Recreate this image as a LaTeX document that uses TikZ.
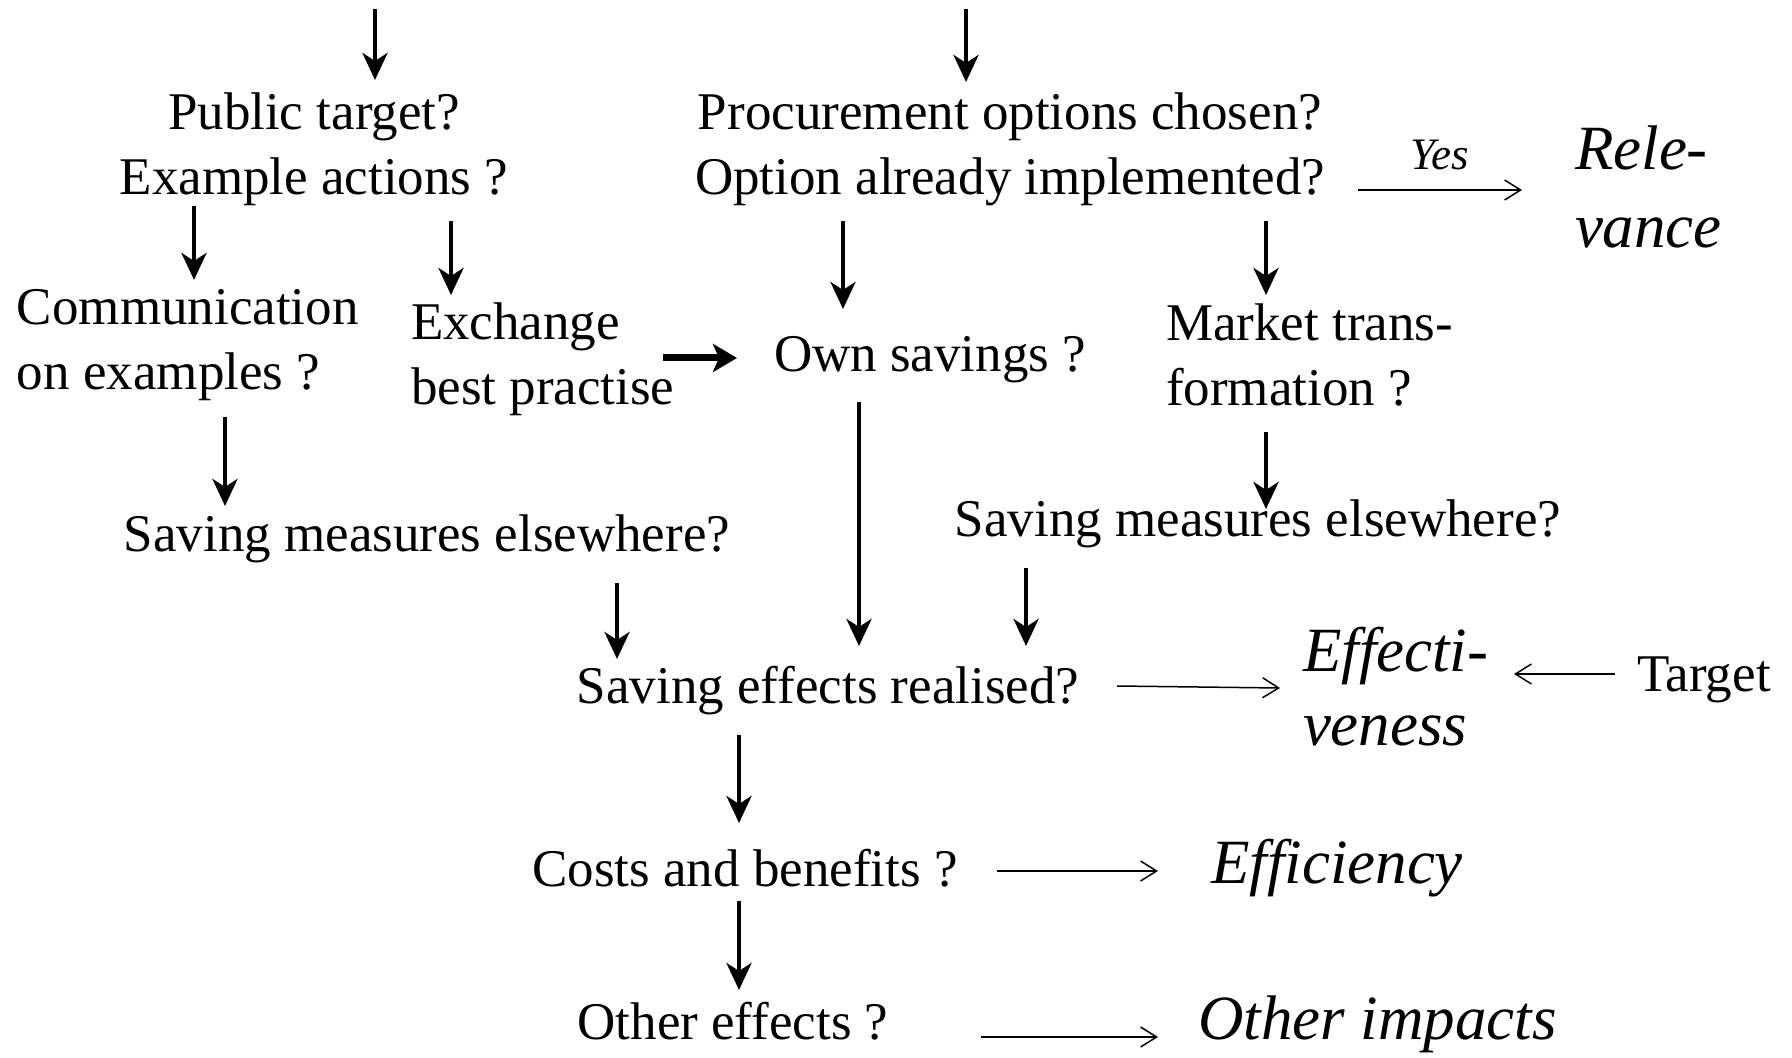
\documentclass[tikz,border=0pt]{standalone}
\usepackage{fontspec}
\setmainfont{Liberation Serif}
\usetikzlibrary{arrows.meta,calc}
\begin{document}
\begin{tikzpicture}[x=0.5pt,y=-0.5pt,
  lbl/.style={inner sep=0pt,outer sep=0pt,font=\fontsize{26.5}{32.5}\selectfont},
  ital/.style={inner sep=0pt,outer sep=0pt,font=\fontsize{31.5}{39}\selectfont\itshape},
  downarr/.style={line width=2.2pt,-{Stealth[length=13.5pt,width=12.5pt,inset=4pt]}},
  boldarr/.style={line width=3.5pt,-{Stealth[length=12pt,width=14pt,inset=3pt]}},
  thinarr/.style={line width=0.75pt,-{Straight Barb[length=8pt,width=10pt]}}]
\useasboundingbox (0,0) rectangle (1792,1058);

% text nodes (base anchor = baseline of last line)
\node[lbl,anchor=base,align=center] (pub) at (314,195) {Public target?\\Example actions ?};
\node[lbl,anchor=base,align=center] (proc) at (1010,195) {Procurement options chosen?\\Option already implemented?};
\node[ital,anchor=base west,align=left] (rel) at (1575,248) {Rele-\\vance};
\node[lbl,anchor=base west,align=left] (comm) at (17,390) {Communication\\on examples ?};
\node[lbl,anchor=base west,align=left] (exch) at (411,405) {Exchange\\best practise};
\node[lbl,anchor=base west] (own) at (774,372) {Own savings ?};
\node[lbl,anchor=base west,align=left] (mkt) at (1166,406) {Market trans-\\formation ?};
\node[lbl,anchor=base] (savl) at (427,552) {Saving measures elsewhere?};
\node[lbl,anchor=base] (savr) at (1258,537) {Saving measures elsewhere?};
\node[lbl,anchor=base] (eff) at (828,703) {Saving effects realised?};
\node[ital,anchor=base west,align=left,font=\fontsize{31.5}{37}\selectfont\itshape] (effv) at (1303,745) {Effecti-\\veness};
\node[lbl,anchor=base west] (tgt) at (1637,691) {Target};
\node[lbl,anchor=base] (cost) at (745,886) {Costs and benefits ?};
\node[ital,anchor=base west] (effi) at (1211,883) {Efficiency};
\node[lbl,anchor=base] (oth) at (733,1039) {Other effects ?};
\node[ital,anchor=base west] (othi) at (1198,1039) {Other impacts};

\coordinate (in1) at (375,9);
\coordinate (in2) at (966,9);

% thick downward arrows
\draw[downarr] (in1) -- ($(pub.base)+(61,-115)$);
\draw[downarr] (in2) -- ($(proc.base)+(-44,-113)$);
\draw[downarr] ($(pub.base)+(-120,11)$) -- ($(comm.base west)+(177,-110)$);
\draw[downarr] ($(pub.base)+(137,26)$) -- ($(exch.base west)+(40,-110)$);
\draw[downarr] ($(proc.base)+(-167,26)$) -- ($(own.base west)+(69,-63)$);
\draw[downarr] ($(proc.base)+(256,26)$) -- ($(mkt.base west)+(100,-111)$);
\draw[downarr] ($(comm.base west)+(208,27)$) -- ($(savl.base)+(-202,-46)$);
\draw[downarr] ($(mkt.base west)+(100,26)$) -- ($(savr.base)+(8,-28)$);
\draw[downarr] ($(own.base west)+(85,30)$) -- ($(eff.base)+(31,-57)$);
\draw[downarr] ($(savl.base)+(190,31)$) -- ($(eff.base)+(-211,-44)$);
\draw[downarr] ($(savr.base)+(-232,31)$) -- ($(eff.base)+(198,-57)$);
\draw[downarr] ($(eff.base)+(-89,32)$) -- ($(cost.base)+(-6,-63)$);
\draw[downarr] ($(cost.base)+(-6,15)$) -- ($(oth.base)+(6,-49)$);
\draw[boldarr] ($(exch.base west)+(252,-47)$) -- ($(own.base west)+(-37,-14)$);

% thin arrows
\draw[thinarr] ($(proc.base)+(348,-5)$) -- node[midway,anchor=base,yshift=10pt,inner sep=0pt,font=\fontsize{22.5}{27}\selectfont\itshape] (yes) {Yes} ($(rel.base west)+(-53,-58)$);
\draw[thinarr] ($(eff.base)+(289,-17)$) -- ($(effv.base west)+(-23,-57)$);
\draw[thinarr] ($(tgt.base west)+(-22,-17)$) -- ($(effv.base west)+(211,-71)$);
\draw[thinarr] ($(cost.base)+(252,-15)$) -- ($(effi.base west)+(-53,-12)$);
\draw[thinarr] ($(oth.base)+(248,-2)$) -- ($(othi.base west)+(-40,-2)$);
\end{tikzpicture}
\end{document}
